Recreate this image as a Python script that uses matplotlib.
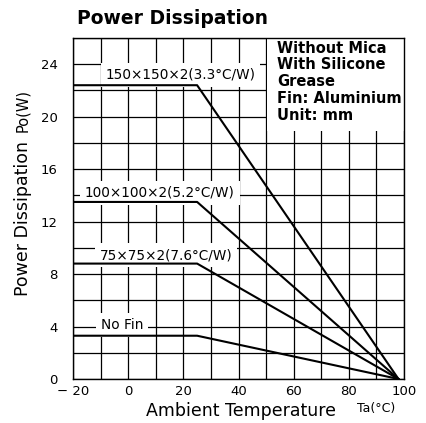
import matplotlib
matplotlib.use("Agg")
import matplotlib.pyplot as plt
import numpy as np

plt.rcParams['font.family'] = ['DejaVu Sans']

# data
series_labels = ["150×150×2(3.3°C/W)", "100×100×2(5.2°C/W)", "75×75×2(7.6°C/W)", "No Fin"]
flat_levels = [22.4, 13.5, 8.8, 3.3]
temps = [-20, 25, 98]
xticks = [-20, 0, 20, 40, 60, 80, 100]
xticklabels = ["− 20", "0", "20", "40", "60", "80", "100"]
yticks = [0, 4, 8, 12, 16, 20, 24]
label_pos = [(19.0, 23.2), (11.5, 14.2), (13.7, 9.45), (-2.2, 4.1)]

fig = plt.figure(figsize=(4.26, 4.23), dpi=100)
ax = fig.add_axes([73/426, 1-379/423, (404-73)/426, (379-38)/423])

ax.set_xlim(-20, 100)
ax.set_ylim(0, 26)
ax.set_xticks(np.arange(-20, 101, 10), minor=True)
ax.set_yticks(np.arange(0, 27, 2), minor=True)
ax.set_xticks(xticks)
ax.set_yticks(yticks)
ax.set_xticklabels(xticklabels, fontsize=9.5)
ax.set_yticklabels([str(v) for v in yticks], fontsize=9.5)
ax.tick_params(which='both', length=0)
ax.tick_params(axis='y', pad=11)
ax.tick_params(axis='x', pad=4)
ax.grid(which='both', color='black', linewidth=0.9, zorder=0)
ax.set_axisbelow(True)
for s in ax.spines.values():
    s.set_linewidth(1.0)
    s.set_zorder(5)

for lvl in flat_levels:
    ax.plot(temps, [lvl, lvl, 0], color='black', linewidth=1.5, zorder=3)

for lab, (x, y) in zip(series_labels, label_pos):
    ax.text(x, y, lab, fontsize=9.8, ha='center', va='center', zorder=2.5,
            bbox=dict(facecolor='white', edgecolor='none', pad=3.5))

# info box
ax.add_patch(plt.Rectangle((50.5, 18.9), 49.5, 7.1, facecolor='white', edgecolor='none', zorder=2))
ax.text(54, 25.8, "Without Mica\nWith Silicone\nGrease\nFin: Aluminium\nUnit: mm",
        fontsize=10.5, fontweight='bold', ha='left', va='top', linespacing=1.15, zorder=4)

fig.text(77/426, 1-19/423, "Power Dissipation", fontsize=13.5, fontweight='bold',
         ha='left', va='center')
fig.text(23/426, 1-218/423, "Power Dissipation", rotation=90, fontsize=12.5,
         ha='center', va='center')
fig.text(23/426, 1-110/423, "Po(W)", rotation=90, fontsize=10.5,
         ha='center', va='center')
fig.text(241/426, 1-411/423, "Ambient Temperature", fontsize=12.5, ha='center', va='center')
fig.text(376/426, 1-408/423, "Ta(°C)", fontsize=9, ha='center', va='center')

fig.savefig("out.png", dpi=100)
